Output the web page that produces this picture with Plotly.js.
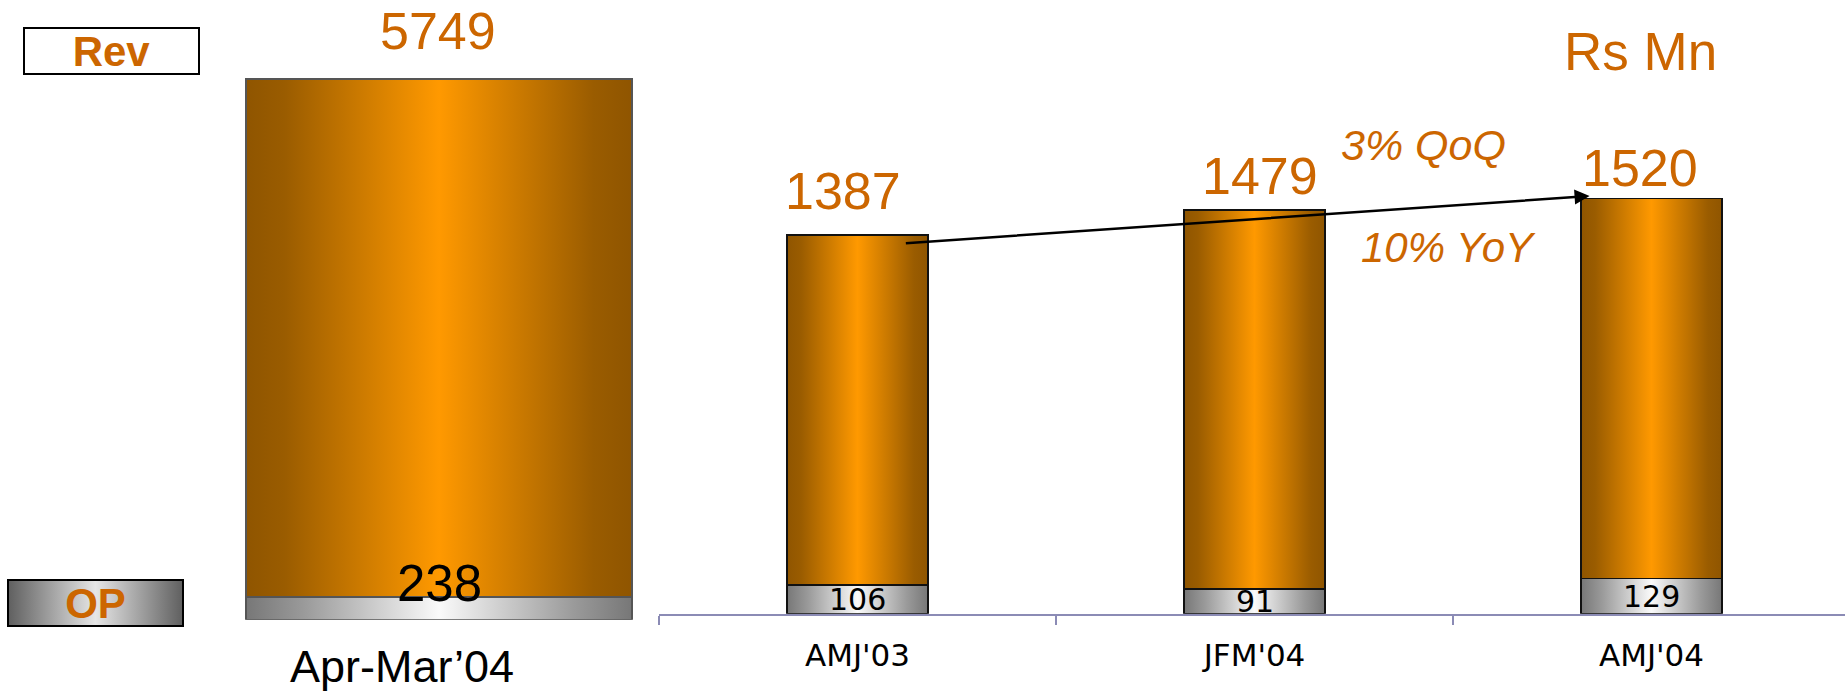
<!DOCTYPE html>
<html><head><meta charset="utf-8">
<script src="https://cdn.plot.ly/plotly-3.0.1.min.js"></script>
<style>html,body{margin:0;padding:0;background:#fff;overflow:hidden}#chart{width:1845px;height:691px}</style>
</head><body>
<svg width="0" height="0" style="position:absolute">
<defs>
<linearGradient id="gOrange" x1="0" y1="0" x2="1" y2="0">
<stop offset="0" stop-color="#8f5500"/><stop offset="0.1" stop-color="#9a5c00"/>
<stop offset="0.5" stop-color="#ff9900"/><stop offset="0.9" stop-color="#9a5c00"/>
<stop offset="1" stop-color="#8f5500"/>
</linearGradient>
<linearGradient id="gGray" x1="0" y1="0" x2="1" y2="0">
<stop offset="0" stop-color="#777777"/><stop offset="0.15" stop-color="#9a9a9a"/>
<stop offset="0.5" stop-color="#fafafa"/><stop offset="0.85" stop-color="#9a9a9a"/>
<stop offset="1" stop-color="#777777"/>
</linearGradient>
<linearGradient id="gLegend" x1="0" y1="0" x2="1" y2="0">
<stop offset="0" stop-color="#5f5f5f"/><stop offset="0.5" stop-color="#e6e6e6"/>
<stop offset="1" stop-color="#5f5f5f"/>
</linearGradient>
</defs></svg>
<div id="chart"></div>
<script>
// ---- data ----
const periodFull = ["Apr-Mar’04"];
const revFull = [5749];
const opFull = [238];
const quarters = ["AMJ'03", "JFM'04", "AMJ'04"];
const revQ = [1387, 1479, 1520];
const opQ = [106, 91, 129];
const unitLabel = "Rs Mn";
const growthNotes = ["3% QoQ", "10% YoY"];
const legendLabels = ["Rev", "OP"];

// ---- styling / layout ----
const W = 1845, H = 691;
const ORANGE = '#CC6600';
const FONT = '"Liberation Sans", Arial, sans-serif';
const WIDE = '"DejaVu Sans", sans-serif';

const leftBottom = 619.7, leftPxPerUnit = 541 / 5749;
const rightBottom = 613.7, rightPxPerUnit = 0.273;
const catW = 397;

const traces = [
  {type:'bar', name:'opFull', x:periodFull, y:opFull, xaxis:'x', yaxis:'y', width:0.44,
   marker:{color:'#c8c8c8', line:{color:'#555', width:2}}, hoverinfo:'none'},
  {type:'bar', name:'revFull', x:periodFull, y:revFull.map((r,i)=>r-opFull[i]), xaxis:'x', yaxis:'y', width:0.44,
   marker:{color:'#e88c00', line:{color:'#555', width:2}}, hoverinfo:'none'},
  {type:'bar', name:'opQ', x:quarters, y:opQ, xaxis:'x2', yaxis:'y2', width:0.356,
   marker:{color:'#c8c8c8', line:{color:'#111', width:1.5}}, hoverinfo:'none'},
  {type:'bar', name:'revQ', x:quarters, y:revQ.map((r,i)=>r-opQ[i]), xaxis:'x2', yaxis:'y2', width:0.356,
   marker:{color:'#e88c00', line:{color:'#111', width:1.5}}, hoverinfo:'none'}
];

const ann = [];
// legend boxes
ann.push({xref:'paper', yref:'paper', x:111.7/W, y:1-50.8/H, xanchor:'center', yanchor:'middle',
  text:'<b>'+legendLabels[0]+'</b>', showarrow:false, font:{family:FONT, size:42, color:ORANGE},
  bgcolor:'#ffffff', bordercolor:'#000', borderwidth:2, borderpad:0, width:173, height:44});
ann.push({xref:'paper', yref:'paper', x:95.8/W, y:1-602.8/H, xanchor:'center', yanchor:'middle',
  text:'<b>'+legendLabels[1]+'</b>', showarrow:false, font:{family:FONT, size:42, color:ORANGE},
  bgcolor:'#aaaaaa', bordercolor:'#000', borderwidth:2, borderpad:0, width:173, height:44});
// unit
ann.push({xref:'paper', yref:'paper', x:1640/W, y:1-51.7/H, xanchor:'center', yanchor:'middle',
  text:unitLabel, showarrow:false, font:{family:FONT, size:53, color:ORANGE}});
// growth notes
ann.push({xref:'paper', yref:'paper', x:1423/W, y:1-145/H, xanchor:'center', yanchor:'middle',
  text:'<i>'+growthNotes[0]+'</i>', showarrow:false, font:{family:FONT, size:43, color:ORANGE}});
ann.push({xref:'paper', yref:'paper', x:1448/W, y:1-247.7/H, xanchor:'center', yanchor:'middle',
  text:'<i>'+growthNotes[1]+'</i>', showarrow:false, font:{family:FONT, size:42, color:ORANGE}});
// full-year labels
ann.push({xref:'x', yref:'y', x:periodFull[0], y:revFull[0], yanchor:'middle', xanchor:'center',
  yshift:48.2, xshift:-1, text:String(revFull[0]), showarrow:false, font:{family:FONT, size:52, color:ORANGE}});
ann.push({xref:'x', yref:'y', x:periodFull[0], y:opFull[0], yanchor:'middle', xanchor:'center',
  yshift:13.4, text:String(opFull[0]), showarrow:false, font:{family:FONT, size:51, color:'#000'}});
// quarterly labels
const revShift = [[-15, 44], [5, 34], [-12, 31]];
quarters.forEach((q,i)=>{
  ann.push({xref:'x2', yref:'y2', x:q, y:revQ[i], yanchor:'middle', xanchor:'center',
    xshift:revShift[i][0], yshift:revShift[i][1], text:String(revQ[i]), showarrow:false,
    font:{family:FONT, size:52, color:ORANGE}});
  ann.push({xref:'x2', yref:'y2', x:q, y:opQ[i]/2, yanchor:'middle', xanchor:'center',
    text:String(opQ[i]), showarrow:false, font:{family:WIDE, size:30, color:'#000'}});
});
// growth arrow AMJ'03 -> AMJ'04
ann.push({xref:'x2', yref:'y2', axref:'x2', ayref:'y2',
  x:2-0.156, y:revQ[2]+10, ax:0+0.118, ay:revQ[0]-30,
  text:'', showarrow:true, arrowhead:2, arrowsize:1.2, arrowwidth:2.5, arrowcolor:'#000', standoff:0, startstandoff:0});

const layout = {
  width:W, height:H, margin:{l:0, r:0, t:0, b:0}, paper_bgcolor:'#fff', plot_bgcolor:'rgba(0,0,0,0)',
  barmode:'stack', showlegend:false, constraintext:'none', bargap:0,
  xaxis:{type:'category', domain:[0, 878/W], range:[-0.5, 0.5], anchor:'y', showline:false, ticks:'',
    showgrid:false, zeroline:false, tickfont:{family:FONT, size:45, color:'#000'}, ticklabelshift:-37, ticklabelstandoff:16},
  yaxis:{domain:[(H-leftBottom)/H, 1], range:[0, leftBottom/leftPxPerUnit], anchor:'x', visible:false},
  xaxis2:{type:'category', domain:[659/W, 1], range:[-0.5, -0.5 + (W-659)/catW], anchor:'y2',
    showline:true, linecolor:'#8b8bb5', linewidth:2, ticks:'outside', ticklen:9, tickwidth:2, tickcolor:'#8b8bb5',
    tickson:'boundaries', showgrid:false, zeroline:false, tickfont:{family:WIDE, size:31, color:'#000'}, ticklabelstandoff:13},
  yaxis2:{domain:[(H-rightBottom)/H, 1], range:[0, rightBottom/rightPxPerUnit], anchor:'x2', visible:false},
  annotations:ann
};

Plotly.newPlot('chart', traces, layout, {staticPlot:true, displayModeBar:false}).then(gd=>{
  gd.querySelectorAll('g.trace.bars').forEach(g=>{
    const cd = g.__data__;
    const name = cd && cd[0] && cd[0].trace ? cd[0].trace.name : '';
    const grad = name.indexOf('op')===0 ? 'url(#gGray)' : 'url(#gOrange)';
    g.querySelectorAll('path').forEach(p=>{ p.style.fill = grad; });
  });
  const op = gd.querySelector('g.annotation[data-index="1"] rect.bg');
  if (op) op.style.fill = 'url(#gLegend)';
});
</script>
</body></html>
